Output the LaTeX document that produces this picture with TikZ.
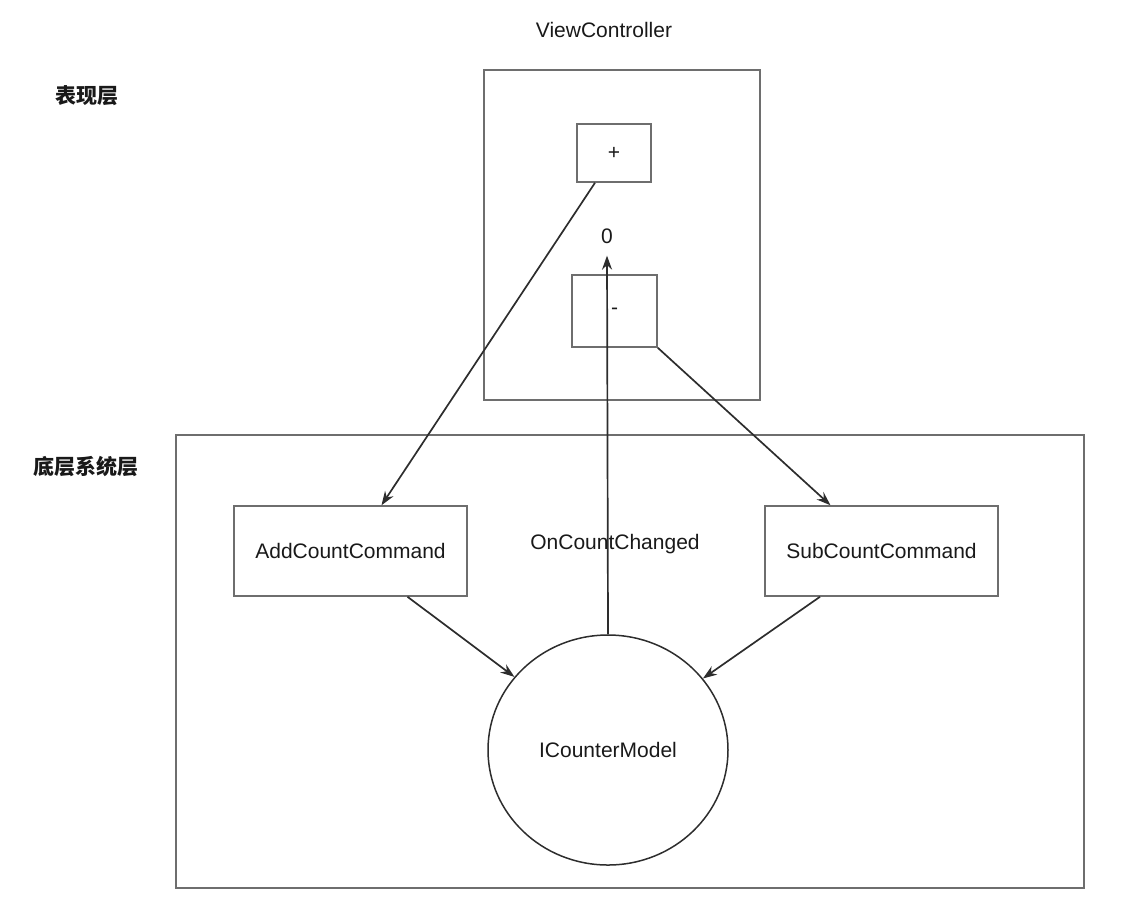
\documentclass[tikz,border=0pt]{standalone}
\usepackage{fontspec}
\setmainfont{Liberation Sans}
\newfontfamily\cjk{Noto Sans CJK SC}
\usetikzlibrary{shapes.geometric,arrows.meta}
\definecolor{boxline}{RGB}{110,110,110}
\definecolor{arrline}{RGB}{45,45,45}
\definecolor{txt}{RGB}{25,25,25}
\tikzset{
  frame/.style={draw=boxline, line width=1.5pt, inner sep=0pt},
  lbl/.style={text=txt, font=\fontsize{21}{24}\selectfont, inner sep=0pt},
  cjklbl/.style={text=txt, font=\cjk\bfseries\fontsize{21}{24}\selectfont, inner sep=0pt},
  arr/.style={draw=arrline, line width=1.7pt, -{Stealth[length=14pt,width=10pt]}},
}
\begin{document}
\begin{tikzpicture}[x=1pt,y=-1pt]
\useasboundingbox (0,0) rectangle (1131,914);
% frames
\node[frame, minimum width=276pt, minimum height=330pt] (vc) at (622,235) {};
\node[frame, minimum width=908pt, minimum height=453pt] (sys) at (630,661.5) {};
\node[frame, minimum width=74pt, minimum height=58pt, lbl] (plus) at (614,153) {+};
\node[frame, minimum width=85pt, minimum height=72pt, lbl] (minus) at (614.5,311) {-};
\node[frame, minimum width=233pt, minimum height=90pt, lbl] (add) at (350.5,551) {AddCountCommand};
\node[frame, minimum width=233pt, minimum height=90pt, lbl] (sub) at (881.5,551) {SubCountCommand};
\node[frame, draw=arrline, ellipse, minimum width=240pt, minimum height=230pt, lbl] (model) at (608,750) {ICounterModel};
% labels
\node[lbl] (vct) at (604,30) {ViewController};
\node[cjklbl] (pres) at (87,96) {表现层};
\node[cjklbl] (base) at (86,466) {底层系统层};
\node[lbl] (zero) at (607,236) {0};
\node[lbl] (occ) at (615,544) {OnCountChanged};
% connectors
\draw[arr] ([xshift=-19pt]plus.south) -- ([xshift=31pt]add.north);
\draw[arr] (minus.south east) -- ([xshift=-51pt]sub.north);
\draw[arr] (model.north) -- ([yshift=-12pt]zero.south);
\draw[arr] ([xshift=57pt]add.south) -- (model.142);
\draw[arr] ([xshift=-61.5pt]sub.south) -- (model.37);
\end{tikzpicture}
\end{document}
